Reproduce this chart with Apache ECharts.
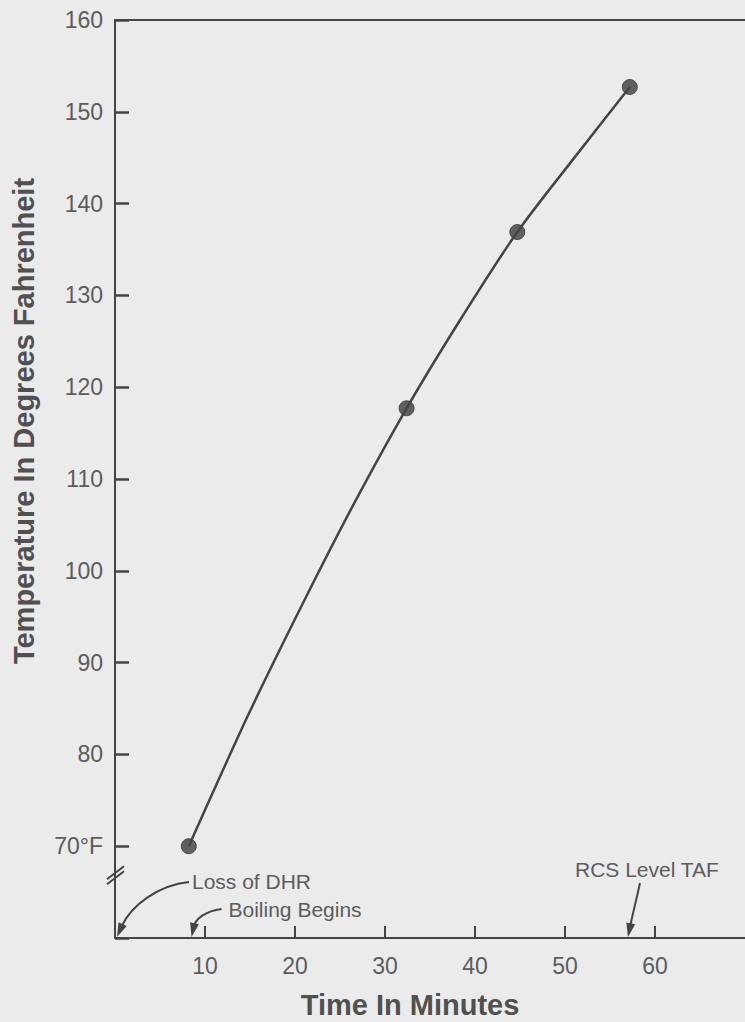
<!DOCTYPE html>
<html>
<head>
<meta charset="utf-8">
<script src="https://cdn.jsdelivr.net/npm/echarts@6/dist/echarts.min.js"></script>
<style>
  html, body { margin: 0; padding: 0; background: #ebebeb; overflow: hidden; }
  #main { width: 745px; height: 1022px; }
</style>
</head>
<body>
<div id="main"></div>
<script>
// tick labels
const timeTicks = [10, 20, 30, 40, 50, 60];
const tempTicks = [70, 80, 90, 100, 110, 120, 130, 140, 150, 160];

// the four marked points
const pointTimes = [8.2, 32.4, 44.7, 57.2];
const pointTemps = [70, 117.7, 136.9, 152.7];

// curve
const curveTimes = [8.2, 14.9, 21.1, 26.6, 32.4, 38.4, 44.7, 51.2, 57.2];
const curveTemps = [70, 84.5, 96.9, 107.4, 117.7, 127.4, 136.9, 145.2, 152.7];

// events marked on the time axis
const eventNames = ['Loss of DHR', 'Boiling Begins', 'RCS Level TAF'];
const eventTimes = [0, 8.5, 57];

const breakTemp = 66.5;

const ink = '#444';
const textInk = '#5c5c5c';
const bg = '#ebebeb';
const labelFont = '"Liberation Sans", Arial, sans-serif';

const chart = echarts.init(document.getElementById('main'), null, { renderer: 'svg' });

const options = {
  backgroundColor: bg,
  animation: false,
  grid: { left: 115, top: 20, right: -6, bottom: 84 },
  xAxis: [
    {
      type: 'value',
      min: 0,
      max: 70,
      interval: 10,
      splitLine: { show: false },
      axisLine: { show: true, lineStyle: { color: ink, width: 2 } },
      axisTick: {
        show: true, inside: true, length: 12, customValues: timeTicks,
        lineStyle: { color: ink, width: 2 }
      },
      axisLabel: {
        customValues: timeTicks, margin: 16,
        color: textInk, fontSize: 23, fontFamily: labelFont
      }
    },
    {
      type: 'value',
      position: 'top',
      min: 0,
      max: 70,
      splitLine: { show: false },
      axisLine: { show: true, lineStyle: { color: ink, width: 2 } },
      axisTick: { show: false },
      axisLabel: { show: false }
    }
  ],
  yAxis: {
    type: 'value',
    min: 60,
    max: 160,
    interval: 10,
    splitLine: { show: false },
    axisLine: { show: true, lineStyle: { color: ink, width: 2 } },
    axisTick: {
      show: true, inside: true, length: 14,
      lineStyle: { color: ink, width: 2.5 }
    },
    axisLabel: {
      margin: 12,
      color: textInk, fontSize: 23, fontFamily: labelFont,
      formatter: v => (v === 60 ? '' : v === 70 ? '70°F' : String(v))
    }
  },
  series: [
    {
      type: 'line',
      data: curveTimes.map((t, i) => [t, curveTemps[i]]),
      smooth: 0.3,
      showSymbol: false,
      lineStyle: { color: ink, width: 2.5 }
    },
    {
      type: 'scatter',
      data: pointTimes.map((t, i) => [t, pointTemps[i]]),
      symbolSize: 15,
      itemStyle: { color: '#3d3d3d', borderColor: '#333', borderWidth: 1 }
    }
  ]
};
chart.setOption(options);

// annotations, placed from axis values
const px = (t, v) => chart.convertToPixel({ gridIndex: 0 }, [t, v]);

function arrow(p0, c1, c2, p1) {
  let dx = p1[0] - c2[0], dy = p1[1] - c2[1];
  const len = Math.hypot(dx, dy);
  dx /= len; dy /= len;
  const headLen = 14, headW = 4.5;
  const base = [p1[0] - dx * headLen, p1[1] - dy * headLen];
  const nx = -dy, ny = dx;
  return [
    {
      type: 'bezierCurve',
      shape: { x1: p0[0], y1: p0[1], cpx1: c1[0], cpy1: c1[1], cpx2: c2[0], cpy2: c2[1], x2: base[0] + dx * 3, y2: base[1] + dy * 3 },
      style: { stroke: ink, lineWidth: 2, fill: null }
    },
    {
      type: 'polygon',
      shape: { points: [p1, [base[0] + nx * headW, base[1] + ny * headW], [base[0] - nx * headW, base[1] - ny * headW]] },
      style: { fill: ink }
    }
  ];
}

function note(text, x, y) {
  return {
    type: 'text', x: x, y: y,
    style: { text: text, fill: textInk, font: '21px ' + labelFont, align: 'left', verticalAlign: 'middle' }
  };
}

const g = [];

// Loss of DHR
let tip = px(eventTimes[0], 60);
tip = [tip[0] + 2, tip[1] - 1];
g.push(...arrow([tip[0] + 72, tip[1] - 55], [tip[0] + 42, tip[1] - 52], [tip[0] + 14, tip[1] - 32], tip));
g.push(note(eventNames[0], tip[0] + 75, tip[1] - 56));

// Boiling Begins
tip = px(eventTimes[1], 60);
tip = [tip[0], tip[1] - 1];
g.push(...arrow([tip[0] + 30, tip[1] - 28], [tip[0] + 14, tip[1] - 26], [tip[0] + 4, tip[1] - 18], tip));
g.push(note(eventNames[1], tip[0] + 37, tip[1] - 28));

// RCS Level TAF
tip = px(eventTimes[2], 60);
tip = [tip[0], tip[1] - 1];
g.push(...arrow([tip[0] + 12, tip[1] - 54], [tip[0] + 9, tip[1] - 40], [tip[0] + 4, tip[1] - 20], tip));
g.push(note(eventNames[2], tip[0] - 53, tip[1] - 68));

// break on the time axis next to the origin
const gapA = px(3.5, 60), gapB = px(4.6, 60);
g.push({ type: 'rect', shape: { x: gapA[0], y: gapA[1] - 3, width: gapB[0] - gapA[0], height: 6 }, style: { fill: bg } });

// break mark on the temperature axis
const bk = px(0, breakTemp);
g.push({ type: 'line', shape: { x1: bk[0] - 8, y1: bk[1] + 6, x2: bk[0] + 9, y2: bk[1] - 7 }, style: { stroke: ink, lineWidth: 2 } });
g.push({ type: 'line', shape: { x1: bk[0] - 8, y1: bk[1] + 1, x2: bk[0] + 9, y2: bk[1] - 12 }, style: { stroke: ink, lineWidth: 2 } });

// axis titles
g.push({
  type: 'text', x: 410, y: 1005,
  style: { text: 'Time In Minutes', fill: '#505050', font: 'bold 29px ' + labelFont, align: 'center', verticalAlign: 'middle' }
});
g.push({
  type: 'text', x: 24, y: 421, rotation: Math.PI / 2,
  style: { text: 'Temperature In Degrees Fahrenheit', fill: '#505050', font: 'bold 29px ' + labelFont, align: 'center', verticalAlign: 'middle' }
});

chart.setOption({ graphic: g });
</script>
</body>
</html>
